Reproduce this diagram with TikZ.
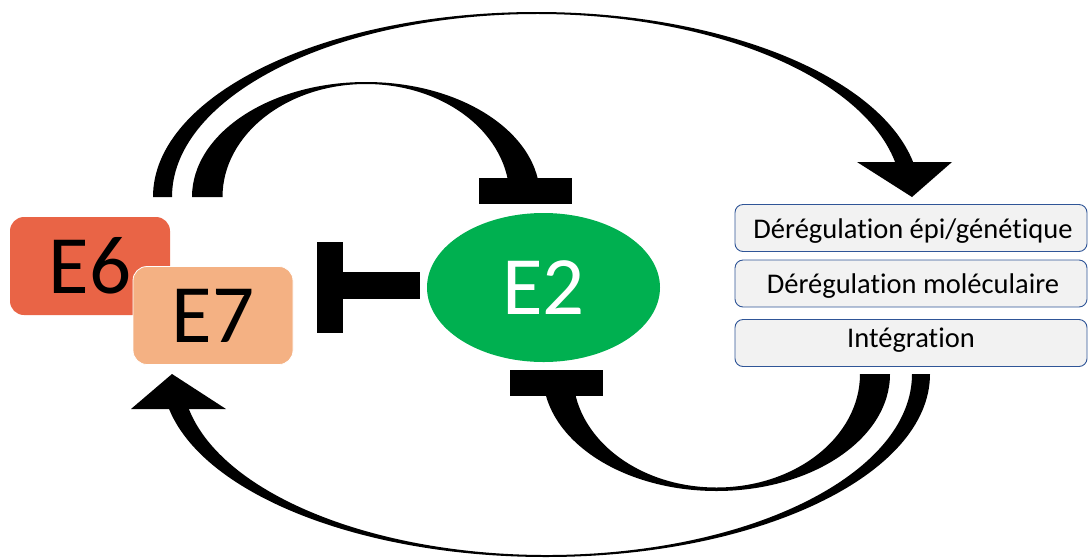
\documentclass[tikz,border=0pt]{standalone}
\usepackage{fontspec}
\setmainfont{Carlito}[Ligatures=NoCommon]
\usetikzlibrary{calc,shapes.geometric}
\definecolor{esix}{HTML}{E96446}
\definecolor{eseven}{HTML}{F4B183}
\definecolor{etwo}{HTML}{00B050}
\definecolor{boxfill}{HTML}{F2F2F2}
\definecolor{boxline}{HTML}{2F5597}
\begin{document}
\begin{tikzpicture}[x=1pt,y=1pt,
  prot/.style={rectangle, rounded corners=14pt, inner sep=0pt, minimum width=160pt, minimum height=98pt,
    font=\fontsize{83}{96}\selectfont},
  infobox/.style={rectangle, rounded corners=8pt, draw=boxline, line width=0.9pt, fill=boxfill,
    minimum width=352pt, minimum height=47pt, inner sep=0pt},
  infotext/.style={anchor=base, inner sep=0pt, font=\fontsize{28.5}{32}\selectfont}]
\useasboundingbox (0,0) rectangle (1088,-558);

% top big arrow (E6/E7 -> boxes)
\fill (153,-197) arc[start angle=180, end angle=5, x radius=383.5, y radius=185]
  -- ($(536.9,-197)+(5:364.9 and 183)$) arc[start angle=5, end angle=180, x radius=364.9, y radius=183] -- cycle;
\fill (857,-162) -- (952,-162) -- (912,-197) -- cycle;

% top inhibition arc (E6/E7 -| E2)
\fill (192,-197) arc[start angle=180, end angle=0, x radius=174, y radius=115]
  -- (509.5,-197) arc[start angle=0, end angle=180, x radius=143.5, y radius=113] -- cycle;
\fill (479,-178) rectangle (572,-204);

% E2 -| E7
\fill (317,-242) rectangle (343,-333);
\fill (343,-272) rectangle (420,-299);

% bottom inhibition arc (boxes -| E2)
\fill (510,-370) rectangle (603,-396);
\fill (890,-374) arc[start angle=0, end angle=-180, x radius=173.5, y radius=117]
  -- (573,-374) arc[start angle=-180, end angle=0, x radius=143.5, y radius=113.5] -- cycle;

% bottom big arrow (boxes -> E7)
\fill (930,-374) arc[start angle=0, end angle=-174, x radius=384, y radius=183]
  -- ($(547,-374)+(-174:365 and 181)$) arc[start angle=-174, end angle=0, x radius=365, y radius=181] -- cycle;
\fill (131,-409) -- (226,-409) -- (172,-374) -- cycle;

% proteins
\node[prot, fill=esix] (e6) at (90,-266) {E6};
\node[prot, fill=eseven, draw=white, line width=0.8pt] (e7) at (213,-315.5) {E7};
\node[ellipse, fill=etwo, minimum width=233pt, minimum height=149pt, inner sep=0pt,
  text=white, font=\fontsize{83}{96}\selectfont] (e2) at (543.5,-287.5) {E2};

% boxes
\node[infobox] (b1) at (911,-228) {};
\node[infobox] (b2) at (911,-283.5) {};
\node[infobox] (b3) at (911,-343) {};
\node[infotext] (t1) at (913,-238) {Dérégulation épi/génétique};
\node[infotext] (t2) at (913,-293) {Dérégulation moléculaire};
\node[infotext] (t3) at (911,-347) {Intégration};
\end{tikzpicture}
\end{document}
